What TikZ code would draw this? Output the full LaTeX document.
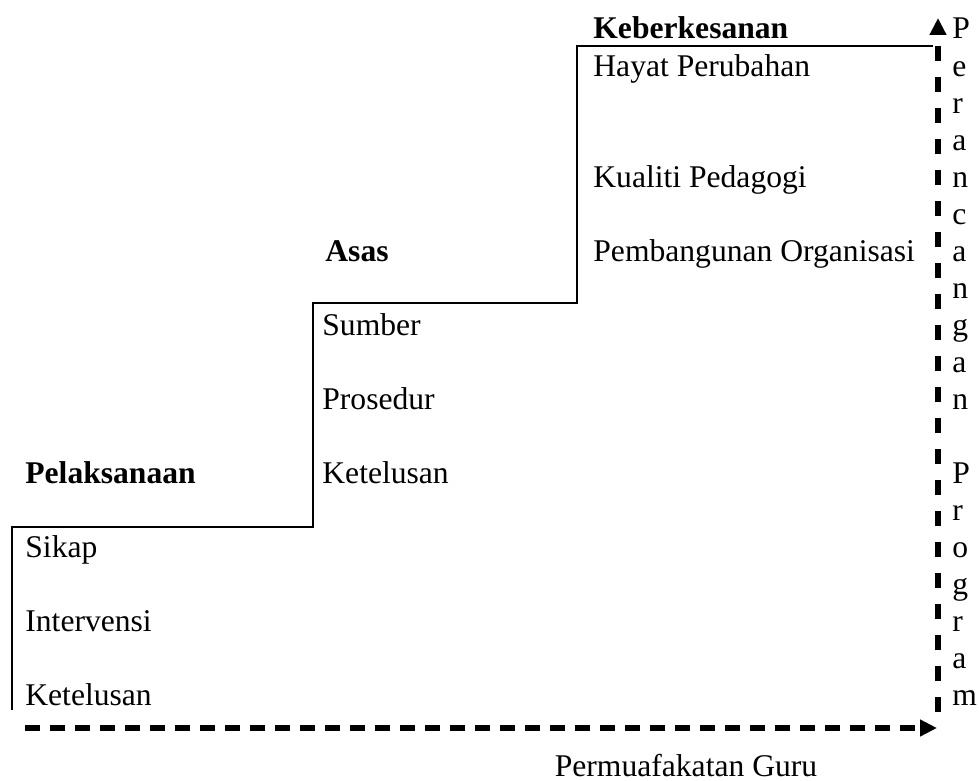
\documentclass[tikz,border=0pt]{standalone}
\usepackage{fontspec}
\setmainfont{Liberation Serif}
\usetikzlibrary{arrows.meta,positioning}

\begin{document}
\begin{tikzpicture}[x=0.5pt,y=-0.5pt,
	lbl/.style={anchor=base west,inner sep=0pt,font=\fontsize{15.8}{18.5}\selectfont},
	head/.style={lbl,font=\fontsize{15.8}{18.5}\selectfont\bfseries},
	stair/.style={line width=1.3pt},
	axis/.style={line width=2.8pt,-{Triangle[length=8.5pt,width=8pt]}}]
	\useasboundingbox (0,0) rectangle (979,781);
	
	%steps
	\draw[stair] (12,710) -- (12,527) -- (313,527) -- (313,303) -- (577,303) -- (577,46) -- (933,46);
	
	%top step
	\node (kes) [head] at (593,39) {Keberkesanan};
	\node (hayat) [lbl] at (593,76) {Hayat Perubahan};
	\node (kual) [lbl] at (593,187) {Kualiti Pedagogi};
	\node (org) [lbl] at (593,261) {Pembangunan Organisasi};
	
	%middle step
	\node (asas) [head] at (325,261) {Asas};
	\node (sumber) [lbl] at (322,335) {Sumber};
	\node (pros) [lbl] at (322,409) {Prosedur};
	\node (tel1) [lbl] at (322,483) {Ketelusan};
	
	%bottom step
	\node (lak) [head] at (25,483) {Pelaksanaan};
	\node (sikap) [lbl] at (25,557) {Sikap};
	\node (inter) [lbl] at (25,631) {Intervensi};
	\node (tel2) [lbl] at (25,705) {Ketelusan};
	
	%axes
	\coordinate (xs) at (25,728);
	\coordinate (xe) at (937,728);
	\coordinate (ys) at (938,712);
	\coordinate (ye) at (938,18);
	\draw[axis, dash pattern=on 7.5pt off 5pt] (xs) -- (xe);
	\draw[axis, dash pattern=on 7.5pt off 8pt] (ys) -- (ye);
	
	\node (guru) [lbl, anchor=base] at (686,776) {Permuafakatan Guru};
	\foreach \ch [count=\i from 0] in {P,e,r,a,n,c,a,n,g,a,n}
		\node (pa\i) [lbl] at (952,39+37*\i) {\ch};
	\foreach \ch [count=\i from 12] in {P,r,o,g,r,a,m}
		\node (pb\i) [lbl] at (952,39+37*\i) {\ch};
\end{tikzpicture}
\end{document}
